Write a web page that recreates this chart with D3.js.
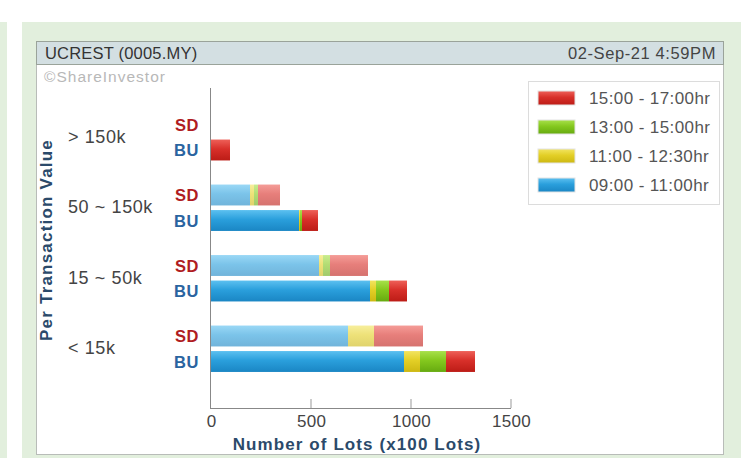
<!DOCTYPE html>
<html><head><meta charset="utf-8">
<script src="https://cdn.jsdelivr.net/npm/d3@7"></script>
<style>
html,body{margin:0;padding:0;background:#fff;}
svg{display:block;font-family:Arial,"Liberation Sans",sans-serif;}
</style></head>
<body>
<svg id="c" width="747" height="458"></svg>
<script>
// ---- data ----
const categories = ["> 150k", "50 ~ 150k", "15 ~ 50k", "< 15k"];
const sides = ["SD", "BU"];
const periods = ["09:00 - 11:00hr", "11:00 - 12:30hr", "13:00 - 15:00hr", "15:00 - 17:00hr"];
const sd0900 = [0, 195, 540, 685];
const sd1100 = [0, 20, 20, 130];
const sd1300 = [0, 20, 35, 0];
const sd1500 = [0, 110, 190, 245];
const bu0900 = [0, 440, 795, 965];
const bu1100 = [0, 5, 30, 80];
const bu1300 = [0, 10, 65, 130];
const bu1500 = [95, 80, 90, 145];
const xTicks = [0, 500, 1000, 1500];
const titleLeft = "UCREST (0005.MY)";
const titleRight = "02-Sep-21 4:59PM";

const seriesBySide = {SD: [sd0900, sd1100, sd1300, sd1500], BU: [bu0900, bu1100, bu1300, bu1500]};
const colors = ["#2a9fdc", "#e3cf26", "#84c81e", "#d8302a"];
const colorsTop = ["#5cc0f0", "#f2e460", "#a8e04a", "#ee6058"];
const colorsBot = ["#1a86c4", "#cdb812", "#66aa10", "#bc1c16"];

const svg = d3.select("#c");
// backgrounds
svg.append("rect").attr("x",0).attr("y",22).attr("width",7).attr("height",436).attr("fill","#e2efdd");
svg.append("rect").attr("x",22).attr("y",22).attr("width",719).attr("height",436).attr("fill","#e2efdd");
svg.append("rect").attr("x",36.5).attr("y",41.5).attr("width",687).attr("height",413).attr("fill","#fff").attr("stroke","#b8bcb8");
svg.append("rect").attr("x",36.5).attr("y",41.5).attr("width",687).attr("height",23).attr("fill","#d3dfe2").attr("stroke","#9aa39a");
svg.append("text").attr("x",45).attr("y",59).attr("font-size",16.5).attr("letter-spacing",0.2).attr("fill","#333").text(titleLeft);
svg.append("text").attr("x",716).attr("y",59).attr("text-anchor","end").attr("font-size",16.5).attr("letter-spacing",0.6).attr("fill","#444").text(titleRight);
svg.append("text").attr("x",44).attr("y",82).attr("font-size",15.5).attr("letter-spacing",1).attr("fill","#b8b8b8").text("\u00A9ShareInvestor");

// gradients
const defs = svg.append("defs");
colors.forEach((c,i)=>{
  const g = defs.append("linearGradient").attr("id","g"+i).attr("x1",0).attr("y1",0).attr("x2",0).attr("y2",1);
  g.append("stop").attr("offset","0%").attr("stop-color",colorsTop[i]);
  g.append("stop").attr("offset","45%").attr("stop-color",colors[i]);
  g.append("stop").attr("offset","100%").attr("stop-color",colorsBot[i]);
});

// scales
const x = d3.scaleLinear().domain([0,1500]).range([211,511]);
const y = d3.scaleBand().domain(categories).range([102,384]).padding(0);
const pairH = 51;
const subOff = (y.bandwidth() - pairH)/2;
const ySub = d3.scaleBand().domain(sides).range([subOff, subOff + pairH]).paddingInner(0.18).paddingOuter(0.09);

// bars
const rows = [];
categories.forEach((cat,ci)=>{
  sides.forEach(side=>{
    let acc = 0;
    seriesBySide[side].forEach((arr,si)=>{
      const v = arr[ci];
      if (v>0) rows.push({cat, side, si, x0:acc, x1:acc+v});
      acc += v;
    });
  });
});
svg.append("g").selectAll("rect").data(rows).join("rect")
  .attr("x", d=>x(d.x0))
  .attr("y", d=>y(d.cat)+ySub(d.side))
  .attr("width", d=>x(d.x1)-x(d.x0))
  .attr("height", ySub.bandwidth())
  .attr("fill", d=>"url(#g"+d.si+")")
  .attr("opacity", d=>d.side==="SD"?0.62:1);

// side labels
categories.forEach(cat=>{
  sides.forEach(side=>{
    svg.append("text").attr("x",199).attr("y", y(cat)+ySub(side)+ySub.bandwidth()/2+6)
      .attr("text-anchor","end").attr("font-size",16.5).attr("letter-spacing",0.6).attr("font-weight","bold")
      .attr("fill", side==="SD"?"#b01c22":"#2a64a0").text(side);
  });
  svg.append("text").attr("x",68).attr("y", y(cat)+y.bandwidth()/2+5.5)
    .attr("font-size",18).attr("letter-spacing",0.6).attr("fill","#444").text(cat);
});

// axes
const xAxis = d3.axisBottom(x).tickValues(xTicks).tickSize(0).tickPadding(7).tickFormat(d3.format("d"));
const gx = svg.append("g").attr("transform","translate(0,408)").call(xAxis);
gx.select(".domain").remove();
gx.selectAll("text").attr("font-size",17).attr("letter-spacing",0.3).attr("fill","#444").attr("font-family","Arial,'Liberation Sans',sans-serif");
svg.append("g").selectAll("line").data(xTicks.filter(d=>d>0)).join("line")
  .attr("x1",d=>x(d)).attr("x2",d=>x(d)).attr("y1",399).attr("y2",408).attr("stroke","#999");
svg.append("line").attr("x1",210.5).attr("x2",511).attr("y1",408.5).attr("y2",408.5).attr("stroke","#888");
svg.append("line").attr("x1",210.5).attr("x2",210.5).attr("y1",88).attr("y2",409).attr("stroke","#888");

svg.append("text").attr("x",357).attr("y",450).attr("text-anchor","middle").attr("font-size",17)
  .attr("letter-spacing",1.1).attr("font-weight","bold").attr("fill","#2b4a6a").text("Number of Lots (x100 Lots)");
svg.append("text").attr("transform","translate(52,240) rotate(-90)").attr("text-anchor","middle")
  .attr("font-size",17).attr("letter-spacing",1.2).attr("font-weight","bold").attr("fill","#2b4a6a").text("Per Transaction Value");

// legend
const lg = svg.append("g");
lg.append("rect").attr("x",528.5).attr("y",81.5).attr("width",191).attr("height",123).attr("fill","#fff").attr("stroke","#dcdcdc");
const legendOrder = [3,2,1,0];
legendOrder.forEach((si,i)=>{
  const cy = 98 + i*29;
  lg.append("rect").attr("x",538).attr("y",cy-7).attr("width",37).attr("height",14).attr("fill","url(#g"+si+")")
    .attr("stroke","#e4e4e4");
  lg.append("text").attr("x",589).attr("y",cy+6).attr("font-size",17).attr("letter-spacing",0.4).attr("fill","#555").text(periods[si]);
});
</script>
</body></html>
